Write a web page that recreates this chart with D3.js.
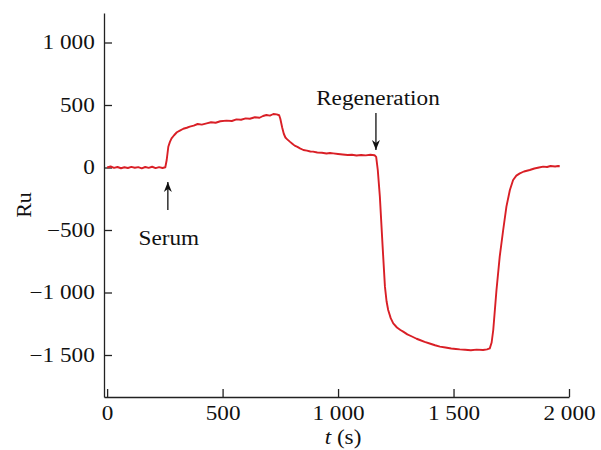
<!DOCTYPE html>
<html><head><meta charset="utf-8">
<script src="https://cdn.jsdelivr.net/npm/d3@7"></script>
<style>
body{margin:0;background:#fff;}
text{font-family:"Liberation Serif","Times New Roman",serif;fill:#111;}
</style></head>
<body><svg id="c" width="601" height="450"></svg>
<script>
const timeS = [0,15,30,45,60,75,90,105,120,135,150,165,180,195,210,225,240,252,258,265,272,279,290,302,315,330,345,358,375,392,410,431,450,470,490,517,540,560,580,600,618,640,660,675,690,705,720,734,745,750,758,765,772,780,791,802,812,824,835,850,865,880,892,910,930,950,965,979,1000,1020,1042,1060,1080,1100,1120,1140,1158,1165,1172,1181,1193,1203,1210,1217,1228,1239,1255,1270,1282,1300,1320,1340,1354,1375,1400,1420,1441,1465,1490,1510,1527,1550,1575,1600,1628,1645,1657,1665,1672,1686,1700,1715,1729,1744,1758,1772,1787,1805,1830,1850,1870,1888,1905,1920,1940,1953,1960];
const ruValues = [0,8,-3,4,-6,2,-4,5,-2,3,-7,4,-3,6,-5,3,-4,2,60,166,205,233,258,282,295,310,318,327,335,348,343,353,362,358,370,375,372,385,382,393,390,402,398,412,420,415,428,425,418,390,320,270,240,225,207,190,175,165,153,140,135,128,127,120,118,112,116,113,108,104,100,102,96,100,97,102,98,85,-20,-233,-633,-953,-1070,-1140,-1205,-1247,-1280,-1300,-1313,-1335,-1352,-1370,-1380,-1395,-1410,-1422,-1433,-1440,-1448,-1452,-1455,-1458,-1462,-1457,-1460,-1455,-1447,-1400,-1300,-980,-713,-500,-313,-180,-100,-65,-47,-32,-20,-8,0,7,4,12,8,12,10];
const xTickValues = [0,500,1000,1500,2000];
const yTickValues = [-1500,-1000,-500,0,500,1000];
const annotations = [
  {label:"Serum", t:263, textV:-620, from:-340, to:-116},
  {label:"Regeneration", t:1164, textV:500, from:436, to:140}
];

const SX = 1.16, FS = "20px";
const svg = d3.select("#c");
const x = d3.scaleLinear().domain([-13.5,2000]).range([104,569]);
const y = d3.scaleLinear().domain([-1836,1236]).range([397,13]);
const loc = d3.formatLocale({decimal:".",thousands:" ",grouping:[3],currency:["",""],minus:"\u2212"});
const fmt = loc.format(",d");

svg.append("defs").append("marker").attr("id","ah").attr("viewBox","0 0 10 10")
  .attr("refX",10).attr("refY",5).attr("markerWidth",10).attr("markerHeight",10)
  .attr("markerUnits","userSpaceOnUse").attr("orient","auto")
  .append("path").attr("d","M0,1 L10,5 L0,9 L3,5 Z").attr("fill","#111");

const yAx = svg.append("g").attr("transform","translate(104,0)")
  .call(d3.axisLeft(y).tickValues(yTickValues).tickFormat(fmt).tickSizeInner(-8).tickSizeOuter(0).tickPadding(8));
const xAx = svg.append("g").attr("transform","translate(0,397)")
  .call(d3.axisBottom(x).tickValues(xTickValues).tickFormat(fmt).tickSizeInner(-8).tickSizeOuter(0).tickPadding(9));
[yAx,xAx].forEach(g=>{
  g.selectAll("path,line").attr("stroke","#222").attr("stroke-width",1.3);
  g.selectAll("text").style("font-family","'Liberation Serif','Times New Roman',serif").style("font-size",FS)
   .attr("fill","#111").attr("transform",`scale(${SX},1)`);
});

const pts = timeS.map((t,i)=>[t,ruValues[i]]);
svg.append("path").datum(pts)
  .attr("d",d3.line().x(d=>x(d[0])).y(d=>y(d[1])))
  .attr("fill","none").attr("stroke","#d91f26").attr("stroke-width",1.9).attr("stroke-linejoin","round");

annotations.forEach(a=>{
  svg.append("line").attr("x1",x(a.t)).attr("x2",x(a.t)).attr("y1",y(a.from)).attr("y2",y(a.to))
    .attr("stroke","#111").attr("stroke-width",1.3).attr("marker-end","url(#ah)");
  svg.append("text").attr("transform",`translate(${x(a.t)+(a.label==="Serum"?1:2)},${y(a.textV)}) scale(${SX},1)`)
    .attr("text-anchor","middle").style("font-size",FS).text(a.label);
});

svg.append("text").attr("transform","translate(31,205) rotate(-90) scale(1.1,1)").attr("text-anchor","middle")
  .style("font-size",FS).text("Ru");
const xl = svg.append("text").attr("transform",`translate(343,444) scale(${SX},1)`).attr("text-anchor","middle").style("font-size",FS);
xl.append("tspan").style("font-style","italic").text("t");
xl.append("tspan").text(" (s)");
</script></body></html>
